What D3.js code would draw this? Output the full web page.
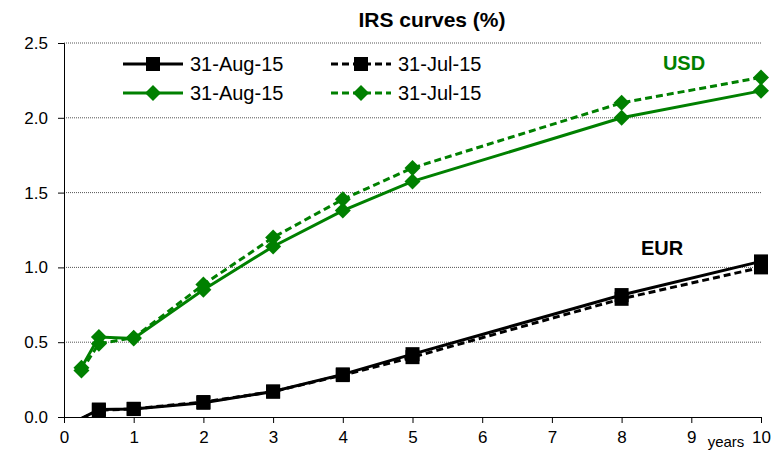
<!DOCTYPE html>
<html><head><meta charset="utf-8">
<script src="https://cdn.jsdelivr.net/npm/d3@7"></script>
<style>body{margin:0;background:#fff}svg{font-family:"Liberation Sans",Arial,sans-serif}</style>
</head><body><svg id="c" width="777" height="453"></svg>
<script>
const tenors = [0.25, 0.5, 1, 2, 3, 4, 5, 8, 10];
const eurAug = [-0.01, 0.05, 0.053, 0.095, 0.17, 0.285, 0.42, 0.815, 1.04];
const eurJul = [-0.01, 0.045, 0.055, 0.1, 0.17, 0.28, 0.40, 0.79, 1.0];
const usdAug = [0.33, 0.535, 0.525, 0.85, 1.14, 1.38, 1.575, 2.0, 2.18];
const usdJul = [0.31, 0.49, 0.53, 0.885, 1.2, 1.455, 1.665, 2.1, 2.27];
const xTicks = [0,1,2,3,4,5,6,7,8,9,10];
const yTicks = [0, 0.5, 1.0, 1.5, 2.0, 2.5];
const legendLabels = ["31-Aug-15", "31-Jul-15"];
const GREEN = "#008000";

const svg = d3.select("#c");
const x = d3.scaleLinear().domain([0,10]).range([64,761]);
const y = d3.scaleLinear().domain([0,2.5]).range([417,43]);

svg.append("defs").append("clipPath").attr("id","clip").append("rect")
  .attr("x",64).attr("y",0).attr("width",710).attr("height",417);

// gridlines
svg.append("g").selectAll("line").data(yTicks.filter(d=>d>0)).join("line")
  .attr("x1",64).attr("x2",761).attr("y1",d=>y(d)).attr("y2",d=>y(d))
  .attr("stroke","#555").attr("stroke-width",1).attr("stroke-dasharray","1,1");

// axes
const yAxis = svg.append("g").attr("transform","translate(64,0)")
  .call(d3.axisLeft(y).tickValues(yTicks).tickFormat(d3.format(".1f")).tickSize(6).tickPadding(10));
const xAxis = svg.append("g").attr("transform","translate(0,417)")
  .call(d3.axisBottom(x).tickValues(xTicks).tickFormat(d3.format("d")).tickSize(6).tickPadding(8));
[yAxis,xAxis].forEach(a=>{
  a.select(".domain").attr("stroke","#000").attr("stroke-width",1);
  a.selectAll(".tick line").attr("stroke","#000");
  a.selectAll("text").attr("font-size",17).attr("fill","#000").attr("font-family","Liberation Sans, Arial, sans-serif");
});
svg.append("text").attr("x",726).attr("y",447).attr("text-anchor","middle")
  .attr("font-size",15).text("years");

// title
svg.append("text").attr("x",432).attr("y",27).attr("text-anchor","middle")
  .attr("font-size",21).attr("font-weight","bold").text("IRS curves (%)");

const series = [
  {vals: usdJul, color: GREEN, dash: "7,4", shape: "diamond"},
  {vals: usdAug, color: GREEN, dash: null, shape: "diamond"},
  {vals: eurJul, color: "#000", dash: "7,4", shape: "square"},
  {vals: eurAug, color: "#000", dash: null, shape: "square"},
];
const line = d3.line().x(d=>x(d[0])).y(d=>y(d[1]));
const plot = svg.append("g").attr("clip-path","url(#clip)");
function marker(g, shape, color){
  if(shape==="square"){
    g.append("rect").attr("x",-7).attr("y",-7).attr("width",14).attr("height",14).attr("fill",color);
  } else {
    g.append("path").attr("d","M0,-8L8,0L0,8L-8,0Z").attr("fill",color);
  }
}
series.forEach(s=>{
  const pts = tenors.map((t,i)=>[t,s.vals[i]]);
  plot.append("path").datum(pts).attr("d",line).attr("fill","none")
    .attr("stroke",s.color).attr("stroke-width",3)
    .attr("stroke-dasharray",s.dash);
  pts.forEach(p=>{
    if(p[1] < 0) return;
    const g = plot.append("g").attr("transform",`translate(${x(p[0])},${y(p[1])})`);
    marker(g, s.shape, s.color);
  });
});

// legend
const legendItems = [
  {col:0,row:0,color:"#000",dash:null,shape:"square",label:legendLabels[0]},
  {col:1,row:0,color:"#000",dash:"7,4",shape:"square",label:legendLabels[1]},
  {col:0,row:1,color:GREEN,dash:null,shape:"diamond",label:legendLabels[0]},
  {col:1,row:1,color:GREEN,dash:"7,4",shape:"diamond",label:legendLabels[1]},
];
legendItems.forEach(it=>{
  const lx = 123 + it.col*208, ly = 64 + it.row*29;
  svg.append("line").attr("x1",lx).attr("x2",lx+60).attr("y1",ly).attr("y2",ly)
    .attr("stroke",it.color).attr("stroke-width",3).attr("stroke-dasharray",it.dash);
  const g = svg.append("g").attr("transform",`translate(${lx+30},${ly})`);
  marker(g, it.shape, it.color);
  svg.append("text").attr("x",lx+67).attr("y",ly+7).attr("font-size",20).text(it.label);
});

// currency labels
svg.append("text").attr("x",684).attr("y",70).attr("text-anchor","middle")
  .attr("font-size",20).attr("font-weight","bold").attr("fill",GREEN).text("USD");
svg.append("text").attr("x",662).attr("y",255).attr("text-anchor","middle")
  .attr("font-size",20).attr("font-weight","bold").attr("fill","#000").text("EUR");
</script></body></html>
